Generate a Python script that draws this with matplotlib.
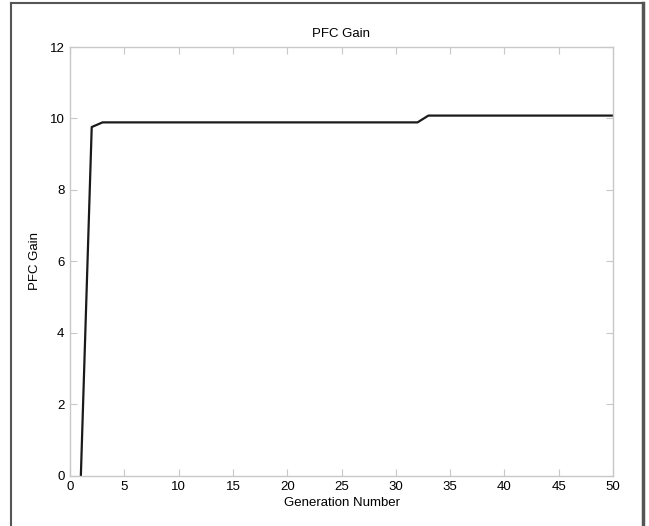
import matplotlib.pyplot as plt
from matplotlib.lines import Line2D

# PFC gain per generation
generations = list(range(1, 51))
gain = [0.0, 9.76] + [9.89] * 30 + [10.08] * 18

xticks = [0, 5, 10, 15, 20, 25, 30, 35, 40, 45, 50]
yticks = [0, 2, 4, 6, 8, 10, 12]

plt.rcParams['font.family'] = ['Liberation Sans', 'DejaVu Sans']

W, H = 649, 526
fig = plt.figure(figsize=(W / 100, H / 100), dpi=100)
ax = fig.add_axes([70 / W, 1 - 475.7 / H, (613 - 70) / W, (475.7 - 47) / H])

ax.plot(generations, gain, color="#1a1a1a", linewidth=1.6)

ax.set_xlim(0, 50)
ax.set_ylim(0, 12)
ax.set_xticks(xticks)
ax.set_yticks(yticks)
ax.tick_params(direction='in', length=5, color='#c8c8c8', labelsize=9.5,
               labelcolor='black', top=True, right=True, pad=4)
for s in ax.spines.values():
    s.set_color('#c8c8c8')
    s.set_linewidth(1.0)

ax.set_title("PFC Gain", fontsize=9.5, pad=7)
ax.set_xlabel("Generation Number", fontsize=9.5, labelpad=3)
ax.set_ylabel("PFC Gain", fontsize=9.5, labelpad=6)

# outer frame around the figure
fig.add_artist(Line2D([11 / W, 11 / W], [0, 1 - 3 / H], color='#555555', linewidth=1.5))
fig.add_artist(Line2D([11 / W, 643 / W], [1 - 3 / H, 1 - 3 / H], color='#555555', linewidth=1.5))
fig.add_artist(Line2D([643 / W, 643 / W], [0, 1 - 3 / H], color='#555555', linewidth=2.5))

fig.savefig("out.png", dpi=100)
